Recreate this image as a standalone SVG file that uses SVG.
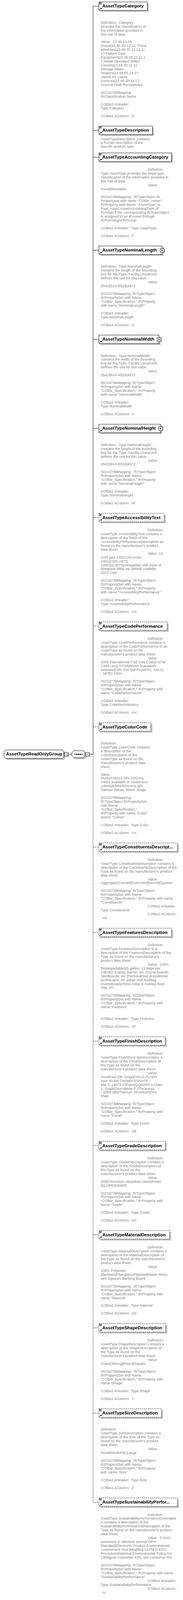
<svg xmlns="http://www.w3.org/2000/svg" width="469" height="4524" viewBox="0 0 469 4524" preserveAspectRatio="none">
<style>
:root{width:100vw;height:100vh}
.box{fill:#fff;stroke:#000;stroke-width:1}
.opt{stroke-dasharray:3 2}
.sh{fill:#c0c0c0}
.lbl{font-family:"Liberation Sans",Arial,sans-serif;font-weight:bold;font-size:11.4px;fill:#000}
.doc{font-family:"Liberation Sans",Arial,sans-serif;font-size:9.2px;fill:#808080;white-space:pre}
.ln{stroke:#000;stroke-width:1;fill:none}
.dl{stroke:#000;stroke-width:1;fill:none;stroke-dasharray:3 2}
</style>
<defs>
<g id="docIcon"><path d="M1,2H7M1,4H7M1,6H7" stroke="#000" stroke-width="1"/></g>
<g id="refIcon"><path d="M2,-2.5L5.5,-6" stroke="#000" stroke-width="1.2"/><polygon points="3.3,-7.2 7.2,-7.2 7.2,-3.3" fill="#000"/></g>
<g id="plusIcon"><rect x="2" y="2" width="10" height="10" class="sh"/><rect x="0" y="0" width="10" height="10" class="box"/><path d="M2,5H8M5,2V8" stroke="#000" stroke-width="1"/></g>
<g id="minusIcon"><rect x="2" y="2" width="10" height="10" class="sh"/><rect x="0" y="0" width="10" height="10" class="box"/><path d="M2,5H8" stroke="#000" stroke-width="1"/></g>
</defs>

<g id="connectors">
<path class="ln" d="M238.5,17.5V2132.5"/>
<path class="dl" d="M238.5,2132.5V4247.5"/>
<path class="ln" d="M174.5,2132.5H184M229,2132.5H238.5"/>
<path class="ln" d="M238.5,17.5H253.5M238.5,368.5H253.5M238.5,444.5H253.5M238.5,707.5H253.5M238.5,959.5H253.5M238.5,1211.5H253.5"/>
<path class="dl" d="M238.5,1463.5H253.5M238.5,1770.5H253.5M238.5,2055.5H253.5M238.5,2395.5H253.5M238.5,2636.5H253.5M238.5,2943.5H253.5M238.5,3239.5H253.5M238.5,3491.5H253.5M238.5,3754.5H253.5M238.5,3995.5H253.5M238.5,4247.5H253.5"/>
</g>

<g id="AssetTypeReadOnlyGroup">
<path class="sh" d="M18.5,2124.5H163.5L167.5,2128.5V2144.5L163.5,2148.5H18.5L14.5,2144.5V2128.5Z"/>
<path class="box" d="M14.5,2120.5H159.5L163.5,2124.5V2140.5L159.5,2144.5H14.5L10.5,2140.5V2124.5Z"/>
<text class="lbl" x="15.5" y="2136.5">AssetTypeReadOnlyGroup</text>
<use href="#minusIcon" x="164.5" y="2127.5"/>
</g>

<g id="sequence">
<path class="sh" d="M188,2132.5L193,2126.5H217L222,2132.5V2140.5L217,2146.5H193L188,2140.5Z"/>
<path class="box" d="M184,2128.5L189,2122.5H213L218,2128.5V2136.5L213,2142.5H189L184,2136.5Z"/>
<path class="ln" d="M189,2132.5H213"/>
<rect x="194.5" y="2131" width="3" height="3" fill="#000"/>
<rect x="199.5" y="2131" width="3" height="3" fill="#000"/>
<rect x="204.5" y="2131" width="3" height="3" fill="#000"/>
<use href="#minusIcon" x="219" y="2127.5"/>
</g>

<g id="AssetTypeCategory">
<rect class="sh" x="257.5" y="9.5" width="124" height="24"/>
<rect class="box" x="253.5" y="5.5" width="124" height="24"/>
<use href="#docIcon" x="253.5" y="5.5"/><use href="#refIcon" x="253.5" y="29.5"/>
<text class="lbl" x="262.3" y="21.5">AssetTypeCategory</text>
<text class="doc"><tspan x="258.3" y="67">Definition:  Category</tspan><tspan x="258.3" y="78">provides the classification of</tspan><tspan x="258.3" y="89">the information provided in</tspan><tspan x="258.3" y="100">this row of data.</tspan><tspan x="258.3" y="122">Value:  23.30.10.00:</tspan><tspan x="258.3" y="133">Doors|23.30-20-17-11: Fixed</tspan><tspan x="258.3" y="144">Windows|23-40 70 11 14 11</tspan><tspan x="258.3" y="155">17:Patient Care</tspan><tspan x="258.3" y="166">Equipment|23.45.05.21.11.1</tspan><tspan x="258.3" y="177">1:Water Operated Water</tspan><tspan x="258.3" y="188">Closets|23.65 35 11 11:</tspan><tspan x="258.3" y="199">Storage Water</tspan><tspan x="258.3" y="210">Heaters|23.65.55.14.17:</tspan><tspan x="258.3" y="221">Valves for Liquid</tspan><tspan x="258.3" y="232">Services|23.80.50.11.17:</tspan><tspan x="258.3" y="243">Ground Fault Receptacles</tspan><tspan x="258.3" y="265">ISO16739Mapping:</tspan><tspan x="258.3" y="276">IfcClassification.Name</tspan><tspan x="258.3" y="298">COBie2.4Header:</tspan><tspan x="258.3" y="309">Type.Category</tspan><tspan x="258.3" y="331">COBie2.4Column:  D</tspan></text>
</g>

<g id="AssetTypeDescription">
<rect class="sh" x="257.5" y="360.5" width="137" height="24"/>
<rect class="box" x="253.5" y="356.5" width="137" height="24"/>
<use href="#docIcon" x="253.5" y="356.5"/><use href="#refIcon" x="253.5" y="380.5"/>
<text class="lbl" x="262.3" y="372.5">AssetTypeDescription</text>
<text class="doc"><tspan x="258.3" y="396">AssetTypeDescription contains</tspan><tspan x="258.3" y="407">a human description of the</tspan><tspan x="258.3" y="418">specific product type.</tspan></text>
</g>

<g id="AssetTypeAccountingCategory">
<rect class="sh" x="257.5" y="436.5" width="186" height="24"/>
<rect class="box" x="253.5" y="432.5" width="186" height="24"/>
<use href="#docIcon" x="253.5" y="432.5"/><use href="#refIcon" x="253.5" y="456.5"/>
<text class="lbl" x="262.3" y="448.5">AssetTypeAccountingCategory</text>
<text class="doc"><tspan x="378.3" y="483">Definition:</tspan><tspan x="258.3" y="494">Type.AssetType provides the asset type</tspan><tspan x="258.3" y="505">classification of the information provided in</tspan><tspan x="258.3" y="516">this row of data.</tspan><tspan x="378.8" y="527">Value:</tspan><tspan x="258.3" y="538">Fixed|Moveable</tspan><tspan x="258.3" y="560">ISO16739Mapping:  IfcTypeObject Ifc</tspan><tspan x="258.3" y="571">Propertyset with name "COBie_Asset",</tspan><tspan x="258.3" y="582">IfcProperty with Name "AssetType" or</tspan><tspan x="258.3" y="593">Pset_Asset.AssetAccountingType of</tspan><tspan x="258.3" y="604">IfcAsset if the corresponding IfcTypeObject</tspan><tspan x="258.3" y="615">is assigned to an IfcAsset through</tspan><tspan x="258.3" y="626">IfcRelAssignsToGroup</tspan><tspan x="258.3" y="648">COBie2.4Header:  Type.AssetType</tspan><tspan x="258.3" y="670">COBie2.4Column:  F</tspan></text>
</g>

<g id="AssetTypeNominalLength">
<rect class="sh" x="257.5" y="699.5" width="162" height="24"/>
<rect class="box" x="253.5" y="695.5" width="162" height="24"/>
<use href="#refIcon" x="253.5" y="719.5"/>
<text class="lbl" x="262.3" y="711.5">AssetTypeNominalLength</text>
<use href="#plusIcon" x="410.5" y="702.5"/>
<text class="doc"><tspan x="258.3" y="757">Definition:  Type.NominalLength</tspan><tspan x="258.3" y="768">contains the length of the bounding</tspan><tspan x="258.3" y="779">box for the Type. Facility.LinearUnit</tspan><tspan x="258.3" y="790">defines the unit for this value.</tspan><tspan x="378.8" y="801">Value:</tspan><tspan x="258.3" y="812">254|3|914.40|15|4572</tspan><tspan x="258.3" y="834">ISO16739Mapping: IfcTypeObject</tspan><tspan x="258.3" y="845">IfcPropertySet with Name</tspan><tspan x="258.3" y="856">"COBie_Specification," IfcProperty</tspan><tspan x="258.3" y="867">with name "NominalLength"</tspan><tspan x="258.3" y="889">COBie2.4Header:</tspan><tspan x="258.3" y="900">Type.NominalLength</tspan><tspan x="258.3" y="922">COBie2.4Column:  U</tspan></text>
</g>

<g id="AssetTypeNominalWidth">
<rect class="sh" x="257.5" y="951.5" width="154" height="24"/>
<rect class="box" x="253.5" y="947.5" width="154" height="24"/>
<use href="#refIcon" x="253.5" y="971.5"/>
<text class="lbl" x="262.3" y="963.5">AssetTypeNominalWidth</text>
<use href="#plusIcon" x="402.5" y="954.5"/>
<text class="doc"><tspan x="258.3" y="1009">Definition:  Type.NominalWidth</tspan><tspan x="258.3" y="1020">contains the width of the bounding</tspan><tspan x="258.3" y="1031">box for the Type. Facility.LinearUnit</tspan><tspan x="258.3" y="1042">defines the unit for this value.</tspan><tspan x="378.8" y="1053">Value:</tspan><tspan x="258.3" y="1064">254|3|914.40|15|4572</tspan><tspan x="258.3" y="1086">ISO16739Mapping: IfcTypeObject</tspan><tspan x="258.3" y="1097">IfcPropertySet with Name</tspan><tspan x="258.3" y="1108">"COBie_Specification," IfcProperty</tspan><tspan x="258.3" y="1119">with name "NominalWidth"</tspan><tspan x="258.3" y="1141">COBie2.4Header:</tspan><tspan x="258.3" y="1152">Type.NominalWidth</tspan><tspan x="258.3" y="1174">COBie2.4Column:  V</tspan></text>
</g>

<g id="AssetTypeNominalHeight">
<rect class="sh" x="257.5" y="1203.5" width="158" height="24"/>
<rect class="box" x="253.5" y="1199.5" width="158" height="24"/>
<use href="#refIcon" x="253.5" y="1223.5"/>
<text class="lbl" x="262.3" y="1215.5">AssetTypeNominalHeight</text>
<use href="#plusIcon" x="406.5" y="1206.5"/>
<text class="doc"><tspan x="258.3" y="1261">Definition:  Type.NominalHeight</tspan><tspan x="258.3" y="1272">contains the height of the bounding</tspan><tspan x="258.3" y="1283">box for the Type. Facility.LinearUnit</tspan><tspan x="258.3" y="1294">defines the unit for this value.</tspan><tspan x="378.8" y="1305">Value:</tspan><tspan x="258.3" y="1316">254|3|914.40|15|4572</tspan><tspan x="258.3" y="1338">ISO16739Mapping:  IfcTypeObject</tspan><tspan x="258.3" y="1349">IfcPropertySet with Name</tspan><tspan x="258.3" y="1360">"COBie_Specification," IfcProperty</tspan><tspan x="258.3" y="1371">with name "NominalHeight"</tspan><tspan x="258.3" y="1393">COBie2.4Header:</tspan><tspan x="258.3" y="1404">Type.NominalHeight</tspan><tspan x="258.3" y="1426">COBie2.4Column:  W</tspan></text>
</g>

<g id="AssetTypeAccessibilityText">
<rect class="sh" x="257.5" y="1455.5" width="167" height="24"/>
<rect class="box opt" x="253.5" y="1451.5" width="167" height="24"/>
<use href="#docIcon" x="253.5" y="1451.5"/><use href="#refIcon" x="253.5" y="1475.5"/>
<text class="lbl" x="262.3" y="1467.5">AssetTypeAccessibilityText</text>
<text class="doc"><tspan x="378.3" y="1502">Definition:</tspan><tspan x="258.3" y="1513">AssetType.AccessibilityText contains a</tspan><tspan x="258.3" y="1524">description of the finish of the</tspan><tspan x="258.3" y="1535">AccessibilityPerformanceDescription as</tspan><tspan x="258.3" y="1546">found on the manufacturer's product</tspan><tspan x="258.3" y="1557">data sheet.</tspan><tspan x="378.8" y="1568">Value: 14</tspan><tspan x="258.3" y="1579">CFR part 240|2120-AA66</tspan><tspan x="258.3" y="1590">2401|2105-AB73</tspan><tspan x="258.3" y="1601">2255|25.2075|compatible with most of</tspan><tspan x="258.3" y="1612">designed billet, etc.|World Usability</tspan><tspan x="258.3" y="1623">2012 User</tspan><tspan x="258.3" y="1645">ISO16739Mapping:  IfcTypeObject</tspan><tspan x="258.3" y="1656">IfcPropertySet with Name</tspan><tspan x="258.3" y="1667">"COBie_Specification," IfcProperty</tspan><tspan x="258.3" y="1678">with name "AccessibilityPerformance"</tspan><tspan x="258.3" y="1700">COBie2.4Header:</tspan><tspan x="258.3" y="1711">Type.AccessibilityPerformance</tspan><tspan x="258.3" y="1733">COBie2.4Column:  AG</tspan></text>
</g>

<g id="AssetTypeCodePerformance">
<rect class="sh" x="257.5" y="1762.5" width="175" height="24"/>
<rect class="box opt" x="253.5" y="1758.5" width="175" height="24"/>
<use href="#docIcon" x="253.5" y="1758.5"/><use href="#refIcon" x="253.5" y="1782.5"/>
<text class="lbl" x="262.3" y="1774.5">AssetTypeCodePerformance</text>
<text class="doc"><tspan x="378.3" y="1809">Definition:</tspan><tspan x="258.3" y="1820">AssetType.CodePerformance contains a</tspan><tspan x="258.3" y="1831">description of the CodePerformance of an</tspan><tspan x="258.3" y="1842">AssetType as found on the</tspan><tspan x="258.3" y="1853">manufacturer's product data sheet.</tspan><tspan x="378.8" y="1864">Value:</tspan><tspan x="258.3" y="1875">2006 International Fuel Gas Code|ASTM</tspan><tspan x="258.3" y="1886">C645 ;amp C754|British Standards</tspan><tspan x="258.3" y="1897">Institute|ESR-3307|NFPA|NFRC 708.01</tspan><tspan x="258.3" y="1908">- NFRC CMA</tspan><tspan x="258.3" y="1930">ISO16739Mapping: IfcTypeObject</tspan><tspan x="258.3" y="1941">IfcPropertySet with Name</tspan><tspan x="258.3" y="1952">"COBie_Specification," IfcProperty with</tspan><tspan x="258.3" y="1963">name "CodePerformance"</tspan><tspan x="258.3" y="1985">COBie2.4Header:</tspan><tspan x="258.3" y="1996">Type.CodePerformance</tspan><tspan x="258.3" y="2018">COBie2.4Column:  AH</tspan></text>
</g>

<g id="AssetTypeColorCode">
<rect class="sh" x="257.5" y="2047.5" width="133" height="24"/>
<rect class="box opt" x="253.5" y="2043.5" width="133" height="24"/>
<use href="#docIcon" x="253.5" y="2043.5"/><use href="#refIcon" x="253.5" y="2067.5"/>
<text class="lbl" x="262.3" y="2059.5">AssetTypeColorCode</text>
<text class="doc"><tspan x="258.3" y="2105">Definition:</tspan><tspan x="258.3" y="2116">AssetType.ColorCode contains</tspan><tspan x="258.3" y="2127">a description of the</tspan><tspan x="258.3" y="2138">ColorDescription of the</tspan><tspan x="258.3" y="2149">AssetType as found on the</tspan><tspan x="258.3" y="2160">manufacturer's product data</tspan><tspan x="258.3" y="2171">sheet.</tspan><tspan x="258.3" y="2193">Value:</tspan><tspan x="258.3" y="2204">#5252C0|222-184-135|Any</tspan><tspan x="258.3" y="2215">colors available or customers</tspan><tspan x="258.3" y="2226">colors|deb887|Green|Light</tspan><tspan x="258.3" y="2237">Salmon |White, Black, Beige</tspan><tspan x="258.3" y="2259">ISO16739Mapping:</tspan><tspan x="258.3" y="2270">IfcTypeObject IfcPropertySet</tspan><tspan x="258.3" y="2281">with Name</tspan><tspan x="258.3" y="2292">"COBie_Specification,"</tspan><tspan x="258.3" y="2303">IfcProperty with name "Color"</tspan><tspan x="258.3" y="2314">and/or "Colour"</tspan><tspan x="258.3" y="2336">COBie2.4Header:  Type.Color</tspan><tspan x="258.3" y="2358">COBie2.4Column:  AA</tspan></text>
</g>

<g id="AssetTypeConstituentsDescription">
<rect class="sh" x="257.5" y="2387.5" width="201" height="24"/>
<rect class="box opt" x="253.5" y="2383.5" width="201" height="24"/>
<use href="#docIcon" x="253.5" y="2383.5"/><use href="#refIcon" x="253.5" y="2407.5"/>
<text class="lbl" x="262.3" y="2399.5">AssetTypeConstituentsDescript...</text>
<text class="doc"><tspan x="378.3" y="2434">Definition:</tspan><tspan x="258.3" y="2445">AssetType.ConstituentsDescription contains a</tspan><tspan x="258.3" y="2456">description of the ConstituentsDescription of the</tspan><tspan x="258.3" y="2467">Type as found on the manufacturer's product</tspan><tspan x="258.3" y="2478">data sheet.</tspan><tspan x="378.8" y="2489">Value:</tspan><tspan x="258.3" y="2500">Aggregate|Cement|Concrete|Benzol|Gypsum</tspan><tspan x="258.3" y="2522">ISO16739Mapping: IfcTypeObject</tspan><tspan x="258.3" y="2533">IfcPropertySet with Name</tspan><tspan x="258.3" y="2544">"COBie_Specification," IfcProperty with name</tspan><tspan x="258.3" y="2555">"Constituents"</tspan><tspan x="378.3" y="2566">COBie2.4Header:</tspan><tspan x="258.3" y="2577">Type.Constituents</tspan><tspan x="378.3" y="2588">COBie2.4Column:</tspan><tspan x="262.3" y="2599">AE</tspan></text>
</g>

<g id="AssetTypeFeaturesDescription">
<rect class="sh" x="257.5" y="2628.5" width="186" height="24"/>
<rect class="box opt" x="253.5" y="2624.5" width="186" height="24"/>
<use href="#docIcon" x="253.5" y="2624.5"/><use href="#refIcon" x="253.5" y="2648.5"/>
<text class="lbl" x="262.3" y="2640.5">AssetTypeFeaturesDescription</text>
<text class="doc"><tspan x="378.3" y="2675">Definition:</tspan><tspan x="258.3" y="2686">AssetType.FeaturesDescription is a</tspan><tspan x="258.3" y="2697">description of the FeaturesDescription of the</tspan><tspan x="258.3" y="2708">Type as found on the manufacturer's</tspan><tspan x="258.3" y="2719">product data sheet.</tspan><tspan x="378.8" y="2730">Value:  100%</tspan><tspan x="258.3" y="2741">Biodegradable|55 gallon; 12 bags per</tspan><tspan x="258.3" y="2752">roll|Attic Energy Barrier, etc.|Cornerboards,</tspan><tspan x="258.3" y="2763">Skirtboards, etc.|Personalized presidential</tspan><tspan x="258.3" y="2774">technicians, etc.|other reef-building</tspan><tspan x="258.3" y="2785">invertebrates|Terra-cotta, a molded fired</tspan><tspan x="258.3" y="2796">clay, etc.</tspan><tspan x="258.3" y="2818">ISO16739Mapping: IfcTypeObject</tspan><tspan x="258.3" y="2829">IfcPropertySet with Name</tspan><tspan x="258.3" y="2840">"COBie_Specification," IfcProperty with</tspan><tspan x="258.3" y="2851">name "Features"</tspan><tspan x="258.3" y="2884">COBie2.4Header:  Type.Features</tspan><tspan x="258.3" y="2906">COBie2.4Column:  AF</tspan></text>
</g>

<g id="AssetTypeFinishDescription">
<rect class="sh" x="257.5" y="2935.5" width="170" height="24"/>
<rect class="box opt" x="253.5" y="2931.5" width="170" height="24"/>
<use href="#docIcon" x="253.5" y="2931.5"/><use href="#refIcon" x="253.5" y="2955.5"/>
<text class="lbl" x="262.3" y="2947.5">AssetTypeFinishDescription</text>
<text class="doc"><tspan x="378.3" y="2982">Definition:</tspan><tspan x="258.3" y="2993">AssetType.FinishDescriptioncontains a</tspan><tspan x="258.3" y="3004">description of the FinishDescription of</tspan><tspan x="258.3" y="3015">the Type as found on the</tspan><tspan x="258.3" y="3026">manufacturer's product data sheet.</tspan><tspan x="378.8" y="3037">Value:</tspan><tspan x="258.3" y="3048">Anodized (Dk. Gray)|GOLD FLASH</tspan><tspan x="258.3" y="3059">over Nickel Flash|PASSIVATE -</tspan><tspan x="258.3" y="3070">MIL-F-14072-C|Paint|QQN290-A Class</tspan><tspan x="258.3" y="3081">1, GradeDescription F (Thickness</tspan><tspan x="258.3" y="3092">-.0004-SB)|Titanium zirconium|Zinc</tspan><tspan x="258.3" y="3103">Plate</tspan><tspan x="258.3" y="3125">ISO16739Mapping: IfcTypeObject</tspan><tspan x="258.3" y="3136">IfcPropertySet with Name</tspan><tspan x="258.3" y="3147">"COBie_Specification," IfcProperty with</tspan><tspan x="258.3" y="3158">name "Finish"</tspan><tspan x="258.3" y="3180">COBie2.4Header:  Type.Finish</tspan><tspan x="258.3" y="3202">COBie2.4Column:  AB</tspan></text>
</g>

<g id="AssetTypeGradeDescription">
<rect class="sh" x="257.5" y="3231.5" width="170" height="24"/>
<rect class="box opt" x="253.5" y="3227.5" width="170" height="24"/>
<use href="#docIcon" x="253.5" y="3227.5"/><use href="#refIcon" x="253.5" y="3251.5"/>
<text class="lbl" x="262.3" y="3243.5">AssetTypeGradeDescription</text>
<text class="doc"><tspan x="378.3" y="3278">Definition:</tspan><tspan x="258.3" y="3289">AssetType.GradeDescription contains a</tspan><tspan x="258.3" y="3300">description of the GradeDescription of</tspan><tspan x="258.3" y="3311">the Type as found on the</tspan><tspan x="258.3" y="3322">manufacturer's product data sheet.</tspan><tspan x="378.8" y="3333">Value:</tspan><tspan x="258.3" y="3344">409|Chromium-vanadium steels|Heart</tspan><tspan x="258.3" y="3355">B|LDPE|S40900</tspan><tspan x="258.3" y="3377">ISO16739Mapping: IfcTypeObject</tspan><tspan x="258.3" y="3388">IfcPropertySet with Name</tspan><tspan x="258.3" y="3399">"COBie_Specification," IfcProperty with</tspan><tspan x="258.3" y="3410">name "Grade"</tspan><tspan x="258.3" y="3432">COBie2.4Header:  Type.Grade</tspan><tspan x="258.3" y="3454">COBie2.4Column:  AC</tspan></text>
</g>

<g id="AssetTypeMaterialDescription">
<rect class="sh" x="257.5" y="3483.5" width="181" height="24"/>
<rect class="box opt" x="253.5" y="3479.5" width="181" height="24"/>
<use href="#docIcon" x="253.5" y="3479.5"/><use href="#refIcon" x="253.5" y="3503.5"/>
<text class="lbl" x="262.3" y="3495.5">AssetTypeMaterialDescription</text>
<text class="doc"><tspan x="378.3" y="3530">Definition:</tspan><tspan x="258.3" y="3541">AssetType.MaterialDescription contains a</tspan><tspan x="258.3" y="3552">description of the MaterialDescription of</tspan><tspan x="258.3" y="3563">the Type as found on the manufacturer's</tspan><tspan x="258.3" y="3574">product data sheet.</tspan><tspan x="378.8" y="3585">Value:</tspan><tspan x="258.3" y="3596">100% Polyester</tspan><tspan x="258.3" y="3607">|Bamboo|Fiberglass|Plywood|Water-Resis</tspan><tspan x="258.3" y="3618">tant Gypsum Backing Board</tspan><tspan x="258.3" y="3640">ISO16739Mapping:  IfcTypeObject</tspan><tspan x="258.3" y="3651">IfcPropertySet with Name</tspan><tspan x="258.3" y="3662">"COBie_Specification," IfcProperty with</tspan><tspan x="258.3" y="3673">name "Material"</tspan><tspan x="258.3" y="3695">COBie2.4Header:  Type.Material</tspan><tspan x="258.3" y="3717">COBie2.4Column:  AD</tspan></text>
</g>

<g id="AssetTypeShapeDescription">
<rect class="sh" x="257.5" y="3746.5" width="171" height="24"/>
<rect class="box opt" x="253.5" y="3742.5" width="171" height="24"/>
<use href="#docIcon" x="253.5" y="3742.5"/><use href="#refIcon" x="253.5" y="3766.5"/>
<text class="lbl" x="262.3" y="3758.5">AssetTypeShapeDescription</text>
<text class="doc"><tspan x="378.3" y="3793">Definition:</tspan><tspan x="258.3" y="3804">AssetType.ShapeDescription contains a</tspan><tspan x="258.3" y="3815">description of the ShapeDescription of</tspan><tspan x="258.3" y="3826">the Type as found on the</tspan><tspan x="258.3" y="3837">manufacturer's product data sheet.</tspan><tspan x="378.8" y="3848">Value:</tspan><tspan x="258.3" y="3859">Cube|Oblong|Round|Square</tspan><tspan x="258.3" y="3881">ISO16739Mapping:  IfcTypeObject</tspan><tspan x="258.3" y="3892">IfcPropertySet with Name</tspan><tspan x="258.3" y="3903">"COBie_Specification," IfcProperty with</tspan><tspan x="258.3" y="3914">name "Shape"</tspan><tspan x="258.3" y="3936">COBie2.4Header:  Type.Shape</tspan><tspan x="258.3" y="3958">COBie2.4Column:  Y</tspan></text>
</g>

<g id="AssetTypeSizeDescription">
<rect class="sh" x="257.5" y="3987.5" width="160" height="24"/>
<rect class="box opt" x="253.5" y="3983.5" width="160" height="24"/>
<use href="#docIcon" x="253.5" y="3983.5"/><use href="#refIcon" x="253.5" y="4007.5"/>
<text class="lbl" x="262.3" y="3999.5">AssetTypeSizeDescription</text>
<text class="doc"><tspan x="258.3" y="4045">Definition:</tspan><tspan x="258.3" y="4056">AssetType.SizeDescription contains a</tspan><tspan x="258.3" y="4067">description of the Size of the Type as</tspan><tspan x="258.3" y="4078">found on the manufacturer's product</tspan><tspan x="258.3" y="4089">data sheet.</tspan><tspan x="378.8" y="4100">Value:</tspan><tspan x="258.3" y="4111">Small|Medium|L|Large</tspan><tspan x="258.3" y="4133">ISO16739Mapping:  IfcTypeObject</tspan><tspan x="258.3" y="4144">IfcPropertySet with Name</tspan><tspan x="258.3" y="4155">"COBie_Specification," IfcProperty</tspan><tspan x="258.3" y="4166">with name "Size"</tspan><tspan x="258.3" y="4188">COBie2.4Header:  Type.Size</tspan><tspan x="258.3" y="4210">COBie2.4Column:  Z</tspan></text>
</g>

<g id="AssetTypeSustainabilityPerformanceDescription">
<rect class="sh" x="257.5" y="4239.5" width="201" height="24"/>
<rect class="box opt" x="253.5" y="4235.5" width="201" height="24"/>
<use href="#docIcon" x="253.5" y="4235.5"/><use href="#refIcon" x="253.5" y="4259.5"/>
<text class="lbl" x="262.3" y="4251.5">AssetTypeSustainabilityPerfor...</text>
<text class="doc"><tspan x="378.3" y="4286">Definition:</tspan><tspan x="258.3" y="4297">AssetType.SustainabilityPerformanceDescriptio</tspan><tspan x="258.3" y="4308">n contains a description of the</tspan><tspan x="258.3" y="4319">SustainabilityPerformanceDescription of the</tspan><tspan x="258.3" y="4330">Type as found on the manufacturer's product</tspan><tspan x="258.3" y="4341">data sheet.</tspan><tspan x="378.8" y="4352">Value:  3 GHG</tspan><tspan x="258.3" y="4363">emissions in absolute terms|CDPH</tspan><tspan x="258.3" y="4374">Standard|Electronic Product Environmental</tspan><tspan x="258.3" y="4385">Assessment Tool |Modified ASTM D 1037</tspan><tspan x="258.3" y="4396">Procedure|National Environmental Policy Act</tspan><tspan x="258.3" y="4407">1969|post-consumer 53%, pre-consumer 8%</tspan><tspan x="258.3" y="4429">ISO16739Mapping: IfcTypeObject</tspan><tspan x="258.3" y="4440">IfcPropertySet with Name</tspan><tspan x="258.3" y="4451">"COBie_Specification," IfcProperty with name</tspan><tspan x="258.3" y="4462">"SustainabilityPerformance"</tspan><tspan x="378.3" y="4473">COBie2.4Header:</tspan><tspan x="258.3" y="4484">Type.SustainabilityPerformance</tspan><tspan x="378.3" y="4495">COBie2.4Column:</tspan><tspan x="262.3" y="4506">AI</tspan></text>
</g>
</svg>
